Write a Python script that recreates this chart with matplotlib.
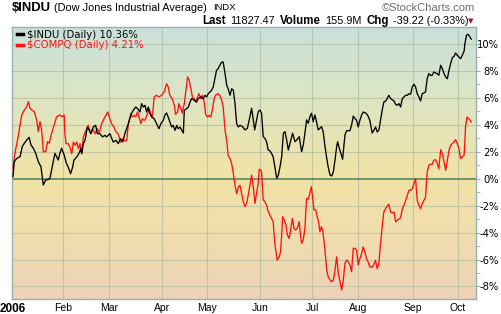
import numpy as np
import matplotlib
matplotlib.use('Agg')
import matplotlib.pyplot as plt
from matplotlib.colors import LinearSegmentedColormap

# trading-day position (0 = first session of 2006) and % change since start
indu_day = [0, 0.55, 1.6, 3.0, 3.9, 4.8, 5.8, 6.8, 7.6, 8.6, 9.6, 10.7, 11.8, 12.8, 13.8, 14.9, 15.6, 16.3, 17.0, 17.7, 18.4, 19.1, 19.8, 20.5, 21.6,
            22.6, 23.3, 24.3, 25.2, 25.7, 26.9, 27.8, 28.6, 29.0, 29.7, 30.4, 31.4, 32.2, 32.9, 33.9, 34.9, 35.6, 36.7, 37.8, 38.8, 39.5, 40.9, 42.3, 43.5, 44.4, 45.4, 46.3, 47.3,
            48.7, 49.8, 50.8, 51.8, 52.6, 53.6, 54.3, 55.0, 55.7, 56.4, 57.1, 57.8, 58.5, 59.6, 60.6, 61.6, 62.4, 63.4, 64.1, 64.8, 65.5, 66.2, 67.0, 67.6, 68.4, 69.1, 69.7, 70.5, 71.2, 71.9,
            72.3, 73.3, 74.0, 74.7, 75.4, 76.5, 77.5, 78.2, 79.3, 80.3, 81.0, 81.7, 82.4, 83.1, 83.8, 84.5, 85.2, 85.9, 86.6, 87.3, 88.1, 88.7, 89.5, 90.2, 90.8, 91.6, 92.3, 93.0, 93.7, 94.4, 95.1, 95.8,
            96.9, 97.9, 98.9, 100.0, 100.7, 101.4, 102.0, 102.8, 103.5, 104.2, 104.9, 105.6, 106.3, 107.0, 107.7, 108.4, 109.1, 109.8, 110.5, 111.3, 112.0, 112.7, 113.4, 114.1, 114.8, 115.5, 116.2, 116.9, 118.0, 119.0, 119.7, 120.8,
            121.8, 122.5, 123.2, 123.9, 124.6, 125.3, 126.0, 126.7, 127.4, 128.1, 128.8, 129.5, 130.2, 130.9, 131.6, 132.4, 133.0, 133.8, 134.5, 135.2, 135.9, 136.6, 137.0, 137.7, 138.4, 139.1, 139.7, 140.1, 140.8, 142.2, 142.9, 143.6, 144.3,
            145.0, 145.7, 146.4, 147.1, 147.8, 148.8, 149.7, 150.6, 151.6, 152.3, 153.0, 153.7, 154.4, 155.1, 155.8, 156.5, 157.3, 157.9, 158.6, 159.4, 160.0, 160.8, 161.5, 162.1, 162.9, 163.6,
            164.3, 165.0, 165.7, 166.4, 167.1, 167.8, 168.5, 169.2, 169.9, 170.6, 171.3, 172.0, 172.7, 173.4, 174.1, 174.8, 175.5, 176.2, 176.9, 177.6, 178.3, 179.0, 179.7, 180.5, 181.2, 181.9, 182.6, 183.3, 184.0, 184.7, 185.4, 186.1, 186.8, 187.5, 188.2, 188.9, 189.6, 190.4, 190.7, 191.4, 191.9, 192.4, 193.1, 193.4]
indu_pct = [0.15, 1.26, 1.51, 1.63, 2.38, 2.63, 2.87, 3.07, 2.5, 2.26, 1.88, 1.26, 0.89, -0.47, -0.1, -0.05, 0.03, 0.65, 1.26, 1.88, 1.63, 1.39, 1.88, 2.26, 1.76,
            1.11, 0.87, 0.37, 0.87, 1.37, 1.61, 1.86, 2.23, 1.86, 2.6, 2.85, 3.84, 3.59, 3.34, 3.84, 3.96, 3.34, 3.34, 3.1, 3.22, 3.1, 3.34, 2.72, 2.85, 2.6, 2.97, 2.72, 3.39,
            4.08, 4.78, 5.08, 5.32, 5.2, 4.95, 5.57, 5.32, 5.45, 4.95, 5.32, 4.83, 4.58, 4.45, 4.08, 3.71, 4.08, 4.33, 4.71, 4.88, 4.58, 4.21, 3.84, 3.96, 3.59, 3.96, 3.71, 3.84, 3.59, 3.39,
            5.08, 5.2, 5.32, 5.69, 5.94, 5.82, 5.69, 5.94, 6.07, 5.94, 6.19, 6.07, 6.31, 6.44, 6.56, 6.81, 7.42, 8.05, 8.17, 8.42, 8.66, 8.66, 7.8, 6.93, 6.68, 6.19, 6.68, 6.56, 5.57, 4.08, 3.84, 3.96,
            3.86, 3.62, 3.74, 4.6, 5.23, 4.36, 3.62, 4.36, 4.97, 5.1, 4.86, 3.12, 3.0, 2.75, 2.13, 2.08, 1.88, 1.63, 0.89, 0.03, 0.27, 0.89, 1.63, 3.37, 3.49, 2.87, 2.13, 2.63, 3.37, 2.75, 2.87, 3.12,
            2.0, 2.5, 3.37, 4.36, 4.11, 4.6, 4.86, 4.23, 4.73, 4.23, 3.62, 3.74, 3.86, 3.49, 2.5, 1.51, 0.89, 0.27, 0.2, 0.52, 1.39, 2.38, 2.75, 2.26, 1.88, 1.44, 2.5, 3.24, 3.56, 3.56, 3.99, 4.65, 4.48,
            4.33, 3.84, 4.33, 4.71, 4.95, 4.88, 4.71, 4.33, 3.39, 3.59, 3.84, 3.47, 3.59, 4.33, 5.08, 5.69, 5.77, 5.94, 6.19, 5.94, 5.87, 5.77, 5.52, 5.45, 5.57, 5.32,
            5.94, 6.07, 6.19, 6.19, 6.31, 6.27, 6.81, 7.01, 6.81, 6.31, 6.07, 5.77, 6.31, 6.36, 6.44, 7.42, 7.8, 7.67, 7.67, 7.92, 7.85, 7.8, 7.67, 8.42, 8.17, 7.8, 7.55, 7.42, 8.05, 8.54, 8.98, 9.08, 9.33, 9.16, 9.03, 8.91, 9.16, 9.48, 10.02, 10.65, 10.72, 10.65, 10.45, 10.36]

compq_day = [0, 0.8, 2.2, 3.7, 4.8, 5.8, 6.5, 7.2, 7.9, 9.0, 10.0, 10.7, 11.4, 12.1, 12.8, 13.8, 14.6, 15.3, 16.3, 17.4, 18.4, 19.8, 20.8, 21.6,
             21.9, 22.4, 23.3, 24.0, 24.8, 25.5, 26.2, 26.9, 27.6, 28.3, 29.0, 29.7, 30.8, 31.8, 32.8, 33.6, 34.6, 35.6, 36.4, 37.4, 38.8, 40.0, 40.9, 41.6, 42.6, 43.5, 44.4, 45.4, 46.3, 47.3, 48.0,
             48.7, 49.8, 50.3, 51.2, 51.8, 52.6, 53.2, 54.0, 54.6, 55.4, 56.0, 56.8, 57.4, 58.2, 58.8, 59.6, 60.6, 61.6, 62.7, 63.8, 64.8, 65.5, 66.2, 67.2, 68.1, 68.6, 69.5, 70.0, 70.9, 71.4,
             72.3, 72.9, 73.7, 74.3, 75.1, 75.7, 76.5, 77.1, 77.9, 78.5, 79.3, 79.9, 80.7, 81.3, 82.1, 82.7, 83.5, 84.1, 84.9, 85.5, 86.4, 87.3, 88.1, 88.7, 89.5, 90.2, 90.8, 91.6, 92.3, 93.0, 93.7, 94.4, 95.1, 95.8,
             96.5, 97.2, 97.9, 98.6, 99.3, 100.0, 100.7, 101.4, 102.1, 102.8, 103.5, 103.9, 104.5, 104.9, 105.6, 106.3, 107.0, 107.7, 108.4, 109.1, 109.8, 110.5, 111.5, 112.4, 112.9, 113.4, 113.8, 114.5, 115.2, 115.8, 116.5, 117.2, 117.9, 118.6, 119.3, 120.0, 120.8,
             121.4, 121.8, 122.5, 123.2, 123.9, 124.6, 125.3, 125.9, 126.4, 127.0, 127.8, 128.4, 129.1, 129.5, 130.2, 130.9, 131.6, 132.4, 133.0, 133.8, 134.5, 135.2, 135.9, 136.6, 137.3, 138.0, 138.7, 139.4, 140.1, 140.8, 141.5, 142.2, 142.9, 143.6, 144.3, 145.0, 145.7,
             146.4, 147.1, 147.8, 148.5, 149.2, 149.9, 150.6, 151.6, 152.3, 153.0, 153.7, 154.4, 155.1, 155.8, 156.5, 157.3, 157.9, 158.6, 159.4, 160.0, 160.8, 161.5, 162.1, 162.9, 163.6,
             164.3, 165.0, 165.7, 166.4, 167.1, 167.8, 168.5, 169.2, 169.9, 170.6, 171.3, 172.0, 172.7, 173.4, 174.1, 174.8, 175.5, 176.2, 176.9, 177.6, 178.3, 179.0, 179.7, 180.5, 181.2, 181.9, 182.6, 183.3, 184.0, 184.7, 185.4, 186.1, 186.8, 187.5, 188.2, 188.9, 189.6, 190.4, 191.0, 191.6, 192.2, 193.0, 193.4]
compq_pct = [0.77, 1.88, 3.12, 4.73, 5.1, 5.35, 5.72, 5.23, 5.1, 4.97, 4.36, 3.49, 4.23, 3.62, 2.0, 2.0, 2.75, 2.63, 3.37, 3.99, 4.6, 4.73, 4.6, 4.73,
             3.34, 2.6, 2.6, 2.35, 1.86, 2.72, 2.48, 2.72, 2.23, 2.6, 1.86, 3.1, 3.59, 3.96, 3.34, 3.71, 3.34, 3.71, 3.39, 4.08, 4.58, 4.95, 4.45, 4.08, 3.84, 3.47, 3.34, 2.72, 2.97, 2.8, 2.85,
             4.08, 4.83, 4.58, 4.71, 4.58, 4.95, 4.58, 4.08, 4.45, 4.33, 4.45, 4.83, 5.2, 4.83, 4.58, 6.07, 6.19, 6.07, 6.19, 6.44, 7.05, 6.81, 6.19, 5.94, 5.45, 4.78, 4.95, 5.57, 5.2, 4.88,
             5.57, 6.44, 7.55, 7.35, 6.68, 6.07, 5.94, 5.69, 6.07, 6.31, 5.94, 6.19, 5.69, 4.78, 4.58, 4.71, 4.58, 5.08, 5.94, 6.19, 6.31, 6.19, 5.82, 5.32, 3.59, 2.85, 1.74, 1.49, 1.11, 0.37, -0.49, -1.11, -0.62, -0.49,
             -1.08, -1.71, -2.08, -1.83, -1.21, -0.47, 0.27, -0.59, -1.83, -1.08, -0.34, 0.7, 0.65, 0.52, -1.58, -1.71, -1.95, -2.45, -2.7, -2.94, -3.19, -4.8, -6.04, -5.79, -5.42, -4.18, -2.82, -3.07, -3.44, -4.18, -4.43, -3.81, -2.94, -3.68, -3.81, -3.68, -3.19,
             -4.31, -4.8, -4.55, -3.68, -1.46, -1.53, -1.08, -0.59, -1.33, -2.32, -2.32, -2.82, -3.31, -3.93, -3.56, -4.06, -5.17, -6.78, -7.27, -7.52, -7.65, -7.52, -6.78, -5.79, -7.02, -7.65, -8.26, -7.52, -6.28, -6.04, -6.16, -6.41, -6.9, -5.17, -5.17, -5.29, -6.4,
             -5.94, -5.57, -5.07, -5.44, -5.94, -6.18, -6.56, -6.56, -6.36, -6.06, -6.68, -6.31, -4.83, -3.59, -2.47, -2.23, -2.05, -1.9, -2.47, -2.55, -2.47, -3.21, -3.09, -2.99, -2.9,
             -2.23, -1.98, -1.61, -1.23, -0.86, -0.86, -0.74, -0.37, 0.0, -1.61, -1.98, -2.23, -1.86, -1.61, -1.41, 0.5, 0.99, 1.07, 1.07, 1.37, 1.41, 1.16, 0.74, 2.15, 1.86, 1.24, 0.62, 1.37, 2.1, 2.48, 2.6, 2.72, 2.9, 2.6, 2.23, 1.49, 1.61, 1.74, 3.84, 4.58, 4.45, 4.33, 4.21]

assert len(indu_day) == len(indu_pct) and len(compq_day) == len(compq_pct)

month_pos = [0, 21, 40.5, 63, 82, 104.2, 126.2, 145.6, 168.8, 187.8]
month_lbl = ['2006', 'Feb', 'Mar', 'Apr', 'May', 'Jun', 'Jul', 'Aug', 'Sep', 'Oct']
pct_ticks = [-8, -6, -4, -2, 0, 2, 4, 6, 8, 10]

W, H = 502, 314
fig = plt.figure(figsize=(W / 100, H / 100), dpi=100)
fig.patch.set_facecolor('white')
ax = fig.add_axes([12.5 / W, 15 / H, 463.5 / W, 272 / H])

xmin, xmax, ymin, ymax = -0.2, 195.4, -8.93, 11.26

# background gradient
cmap = LinearSegmentedColormap.from_list('bg', [(0, '#c9e1dc'), (0.25, '#dce5c5'),
                                                (0.55, '#f1e3a6'), (0.8, '#f0dcb0'), (1, '#edd2b8')])
grad = np.linspace(0, 1, 256).reshape(-1, 1)
ax.imshow(grad, extent=[xmin, xmax, ymin, ymax], aspect='auto', cmap=cmap, zorder=0, origin='upper')

ax.set_xlim(xmin, xmax)
ax.set_ylim(ymin, ymax)

# grid
for v in pct_ticks:
    if v != 0:
        ax.axhline(v, color='#b4bca0', lw=0.8, alpha=0.75, zorder=1)
for m in month_pos[1:]:
    ax.axvline(m, color='#b4bca0', lw=0.8, alpha=0.75, zorder=1)
ax.axhline(0, color='#4f7a5a', lw=1.1, zorder=2)

ax.plot(compq_day, compq_pct, color='#ff1010', lw=0.95, zorder=3, label=r'\$COMPQ (Daily) 4.21%')
ax.plot(indu_day, indu_pct, color='black', lw=0.95, zorder=4, label=r'\$INDU (Daily) 10.36%')

handles, labels = ax.get_legend_handles_labels()
leg = ax.legend(handles[::-1], labels[::-1], loc='upper left', bbox_to_anchor=(-0.004, 1.012),
                frameon=False, fontsize=7.3, handlelength=0.65, handletextpad=0.35,
                labelspacing=0.05, borderaxespad=0.2, labelcolor='linecolor')
for ln in leg.get_lines():
    ln.set_linewidth(2.5)

for s in ax.spines.values():
    s.set_color('#98b0b0')
    s.set_linewidth(1)

ax.yaxis.tick_right()
ax.set_yticks(pct_ticks)
ax.set_yticklabels([f'{v}%' for v in pct_ticks], fontsize=7.2, color='black', ha='right')
ax.set_yticks([v + 1 for v in pct_ticks[:-1]], minor=True)
ax.tick_params(axis='y', which='both', direction='out', length=3, color='#98b0b0', pad=13.5)

ax.set_xticks(month_pos)
ax.set_xticklabels(month_lbl, fontsize=7.5, family='Liberation Sans')
ax.get_xticklabels()[0].set_fontweight('bold')
ax.get_xticklabels()[0].set_fontsize(8.5)
ax.tick_params(axis='x', length=0, pad=3)

# header
def fx(x):
    return x / W

def fy(y):
    return 1 - y / H

fig.text(fx(12), fy(8), r'\$INDU', fontsize=9.4, fontweight='bold', family='Liberation Sans', va='center')
fig.text(fx(54), fy(8), '(Dow Jones Industrial Average)', fontsize=7.9, family='Liberation Sans', va='center')
fig.text(fx(213), fy(8), 'INDX', fontsize=6.8, family='Liberation Sans', va='center')
fig.text(fx(475), fy(8), '\u00a9StockCharts.com', fontsize=8, family='Liberation Sans', color='#6e6e6e',
         va='center', ha='right')

row2 = [(202, 'Last', 'bold', 8.3), (230, '11827.47', 'normal', 7.8), (280, 'Volume', 'bold', 8.3),
        (325, '155.9M', 'normal', 7.8), (367, 'Chg', 'bold', 8.3), (393, '-39.22 (-0.33%)', 'normal', 7.8)]
for x, t, w, fs in row2:
    fig.text(fx(x), fy(21), t, fontsize=fs, fontweight=w, family='Liberation Sans', va='center')
fig.text(fx(471), fy(21.5), '\u25bc', fontsize=5, color='#a0103a', va='center', ha='center')

fig.savefig('out.png', dpi=100)
